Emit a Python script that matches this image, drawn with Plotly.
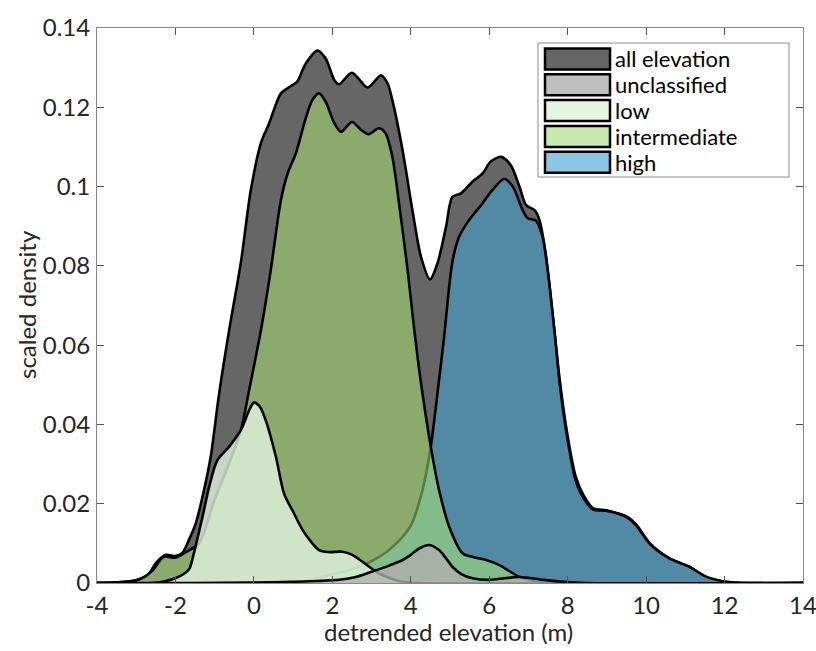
import plotly.graph_objects as go

# ---------------- data ----------------
all_x = [-4, -3.5, -3.0, -2.7, -2.5, -2.25, -2.0, -1.83, -1.65, -1.48, -1.27, -1.1, -0.89,
         -0.63, -0.33, -0.08, 0.18, 0.39, 0.69, 0.94, 1.10, 1.32, 1.62, 1.83, 2.05, 2.17,
         2.50, 2.90, 3.24, 3.41, 3.53, 3.79, 4.04, 4.26, 4.49, 4.68, 4.90, 5.06, 5.28, 5.57,
         5.83, 6.04, 6.30, 6.55, 6.77, 6.94, 7.15, 7.28, 7.45, 7.66, 7.8, 8.0, 8.2, 8.4, 8.65,
         9.0, 9.5, 9.75, 10.1, 10.6, 11.1, 11.5, 12.0, 12.5, 14]
all_y = [0, 0.0002, 0.0007, 0.002, 0.005, 0.0071, 0.0068, 0.0075, 0.011, 0.0151, 0.0235,
         0.0319, 0.0475, 0.0638, 0.081, 0.099, 0.111, 0.116, 0.1235, 0.1253, 0.1264, 0.131,
         0.1343, 0.1323, 0.1269, 0.1258, 0.1287, 0.125, 0.1281, 0.126, 0.1218, 0.1092, 0.0941,
         0.0823, 0.0766, 0.0806, 0.0899, 0.0974, 0.0983, 0.1012, 0.1033, 0.1063, 0.1075,
         0.1054, 0.100, 0.0953, 0.0941, 0.0916, 0.0823, 0.0638, 0.051, 0.037, 0.027, 0.0222,
         0.0188, 0.0183, 0.0168, 0.0147, 0.010, 0.0062, 0.0041, 0.0016, 0.0003, 0.0, 0]

high_x = [-4, 1.0, 1.5, 2.0, 2.5, 3.0, 3.5, 4.0, 4.3, 4.51, 4.72, 4.85, 4.95, 5.06, 5.23,
          5.49, 5.79, 6.08, 6.38, 6.60, 6.85, 6.98, 7.19, 7.36, 7.5, 7.66, 7.8, 8.0, 8.2,
          8.38, 8.64, 8.98, 9.49, 9.74, 10.08, 10.59, 11.1, 11.53, 12.04, 12.5, 14]
high_y = [0, 0, 0.001, 0.0022, 0.0035, 0.0055, 0.0088, 0.0145, 0.0235, 0.0344, 0.0512,
          0.062, 0.072, 0.081, 0.0873, 0.0916, 0.0953, 0.0991, 0.1019, 0.100, 0.0941, 0.092,
          0.0914, 0.0873, 0.078, 0.0638, 0.050, 0.036, 0.026, 0.0218, 0.0186, 0.0182, 0.0167,
          0.0146, 0.010, 0.0062, 0.0041, 0.0016, 0.0003, 0, 0]

int_x = [-4, -3.2, -2.9, -2.6, -2.3, -2.0, -1.7, -1.4, -1.0, -0.6, -0.33, -0.12, 0.18, 0.43,
         0.69, 0.86, 1.07, 1.32, 1.49, 1.66, 1.83, 2.05, 2.22, 2.50, 2.73, 2.92, 3.19, 3.36,
         3.53, 3.70, 3.92, 4.09, 4.25, 4.51, 4.72, 4.98, 5.32, 5.6, 5.92, 6.26, 6.76, 7.2,
         7.6, 14]
int_y = [0, 0.0003, 0.001, 0.003, 0.0066, 0.0064, 0.008, 0.010, 0.021, 0.031, 0.0386,
         0.0487, 0.0638, 0.0789, 0.0966, 0.1033, 0.1084, 0.1172, 0.1218, 0.1235, 0.1214,
         0.116, 0.1138, 0.1163, 0.1143, 0.1132, 0.1147, 0.1134, 0.1075, 0.0958, 0.0789,
         0.0638, 0.0512, 0.0344, 0.0235, 0.0142, 0.0075, 0.0065, 0.0058, 0.0045, 0.0016,
         0.0004, 0, 0]

low_x = [-4, -2.6, -2.3, -2.0, -1.8, -1.65, -1.53, -1.31, -1.14, -0.93, -0.63, -0.33,
         -0.12, 0.0, 0.15, 0.3, 0.56, 0.77, 1.0, 1.24, 1.45, 1.66, 1.9, 2.26, 2.51, 2.75,
         2.94, 3.19, 3.5, 3.78, 4.2, 14]
low_y = [0, 0, 0.0004, 0.0012, 0.0022, 0.0035, 0.0075, 0.0167, 0.0243, 0.031, 0.0344,
         0.0386, 0.0436, 0.0455, 0.0445, 0.0411, 0.0319, 0.0225, 0.018, 0.0134, 0.0105,
         0.0083, 0.0078, 0.0079, 0.0071, 0.0055, 0.0041, 0.0024, 0.0011, 0.0003, 0, 0]

uncl_x = [-4, -1.5, 0, 1.0, 1.6, 2.18, 2.6, 3.02, 3.4, 3.79, 4.0, 4.21, 4.47, 4.72, 4.9,
          5.06, 5.3, 5.57, 6.0, 6.4, 6.76, 7.3, 7.9, 8.5, 14]
uncl_y = [0, 0, 0.0001, 0.0003, 0.0005, 0.0008, 0.0015, 0.0029, 0.0042, 0.0058, 0.0071,
          0.0087, 0.0096, 0.0083, 0.0062, 0.0041, 0.0022, 0.0012, 0.0008, 0.0012, 0.0015,
          0.0009, 0.0003, 0, 0]

series_names = ["all elevation", "unclassified", "low", "intermediate", "high"]
x_ticks = [-4, -2, 0, 2, 4, 6, 8, 10, 12, 14]
x_tick_text = ["-4", "-2", "0", "2", "4", "6", "8", "10", "12", "14"]
y_ticks = [0, 0.02, 0.04, 0.06, 0.08, 0.1, 0.12, 0.14]
y_tick_text = ["0", "0.02", "0.04", "0.06", "0.08", "0.1", "0.12", "0.14"]
x_title = "detrended elevation (m)"
y_title = "scaled density"

# ---------------- styling ----------------
W, H = 816, 651
ML, MR, MT, MB = 97, 13, 28, 68
FONT = "Lato, 'Open Sans', sans-serif"
TXT = "#262626"
FS = 24

fill_colors = {
    "all elevation": "#666666",
    "high": "rgb(82,138,166)",
    "intermediate": "rgba(173,233,113,0.52)",
    "low": "rgba(225,242,222,0.80)",
    "unclassified": "rgba(178,175,175,0.78)",
}
legend_colors = {
    "all elevation": "#666666",
    "unclassified": "#bfbfbf",
    "low": "#e5f5e0",
    "intermediate": "#c9e8ad",
    "high": "#8cc6e2",
}

fig = go.Figure()
layers = [("all elevation", all_x, all_y), ("high", high_x, high_y),
          ("intermediate", int_x, int_y), ("low", low_x, low_y),
          ("unclassified", uncl_x, uncl_y)]
for name, xs, ys in layers:
    fig.add_trace(go.Scatter(
        x=xs, y=ys, mode="lines", name=name, showlegend=False,
        fill="tozeroy", fillcolor=fill_colors[name],
        line=dict(color="black", width=2.6, shape="spline", smoothing=0.8),
        hoverinfo="skip"))

# ---------------- manual legend (MATLAB style) ----------------
def px(xpix):
    return (xpix - ML) / (W - ML - MR)

def py(ypix):
    return 1 - (ypix - MT) / (H - MT - MB)

shapes = [dict(type="rect", xref="paper", yref="paper",
               x0=px(538), x1=px(789), y0=py(177), y1=py(43),
               fillcolor="white", line=dict(color="#8c8c8c", width=1), layer="above")]
annotations = []
row_top = 48.5
pitch = 25.8
for i, name in enumerate(series_names):
    y0 = row_top + i * pitch
    shapes.append(dict(type="rect", xref="paper", yref="paper",
                       x0=px(545), x1=px(610), y0=py(y0 + 21), y1=py(y0),
                       fillcolor=legend_colors[name], line=dict(color="black", width=2.5),
                       layer="above"))
    annotations.append(dict(xref="paper", yref="paper", x=px(613), y=py(y0 + 10.5),
                            text=name, showarrow=False, xanchor="left", yanchor="middle",
                            font=dict(family=FONT, size=22, color="black")))

# axis titles as annotations for exact placement
annotations.append(dict(xref="paper", yref="paper", x=px(448), y=py(631), text=x_title,
                        showarrow=False, xanchor="center", yanchor="middle",
                        font=dict(family=FONT, size=FS, color=TXT)))
annotations.append(dict(xref="paper", yref="paper", x=px(26), y=py(305), text=y_title,
                        textangle=-90, showarrow=False, xanchor="center", yanchor="middle",
                        font=dict(family=FONT, size=FS, color=TXT)))

fig.update_layout(
    width=W, height=H,
    margin=dict(l=ML, r=MR, t=MT, b=MB, pad=0, autoexpand=False),
    paper_bgcolor="white", plot_bgcolor="white",
    shapes=shapes, annotations=annotations,
    font=dict(family=FONT, size=FS, color=TXT),
)
fig.update_xaxes(
    range=[-4, 14], tickvals=x_ticks, ticktext=x_tick_text, ticks="inside", ticklen=7,
    tickwidth=1, tickcolor="#555555", showline=True, linecolor="#888888", linewidth=1,
    mirror="ticks", showgrid=False, zeroline=False, automargin=False,
    ticklabeloverflow="allow", ticklabelstandoff=1, tickfont=dict(size=FS, color=TXT))
fig.update_yaxes(
    range=[0, 0.14], tickvals=y_ticks, ticktext=y_tick_text, ticks="inside", ticklen=7,
    tickwidth=1, tickcolor="#555555", showline=True, linecolor="#888888", linewidth=1,
    mirror="ticks", showgrid=False, zeroline=False, automargin=False,
    ticklabeloverflow="allow", ticklabelstandoff=1, tickfont=dict(size=FS, color=TXT))

# remove the browser's default 8px page margin so the figure sits at the window origin
fig.write_html("out.html", config={"displayModeBar": False, "staticPlot": True},
               post_script="document.body.style.margin='0';document.body.style.overflow='hidden';")
